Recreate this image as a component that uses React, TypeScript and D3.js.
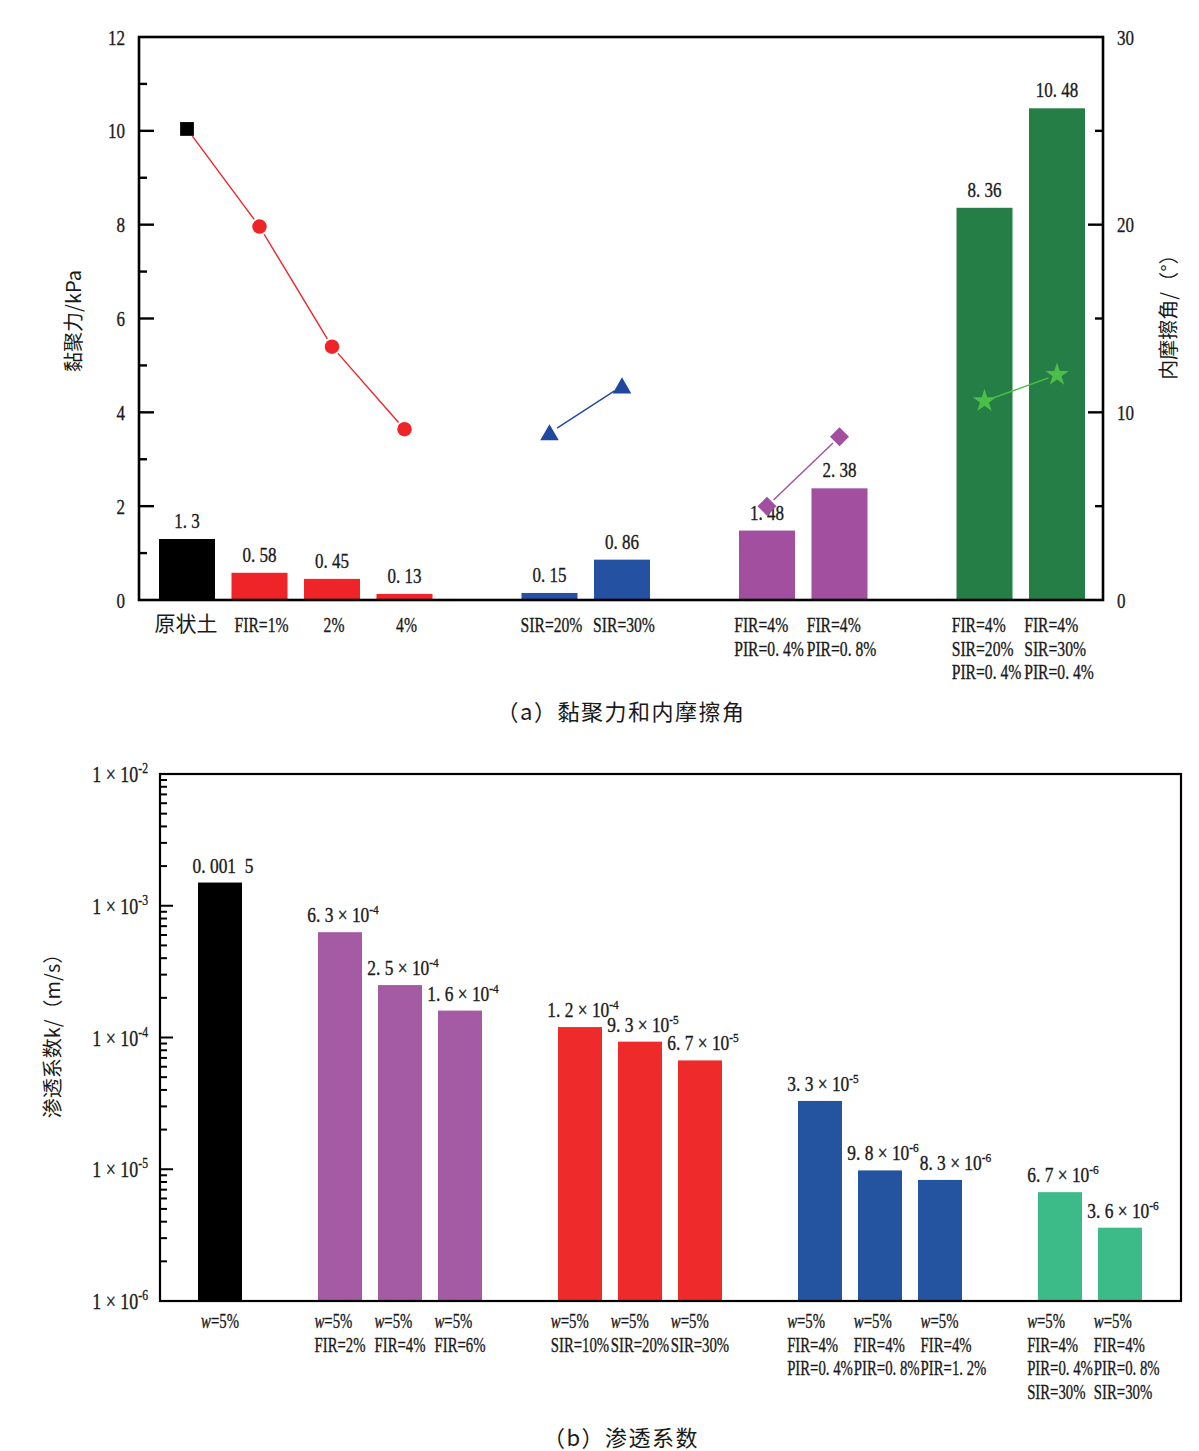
import React, { useEffect, useRef } from 'react';
import * as d3 from 'd3';

const W = 1199;
const H = 1451;
const SERIF = '"Liberation Serif","Times New Roman",serif';
const CJK = '"Noto Sans CJK SC","Noto Sans CJK JP",sans-serif';

// ---------- Chart (a): cohesion & internal friction angle ----------
const cohesionCats: string[][] = [
  ['原状土'], ['FIR=1%'], ['2%'], ['4%'], ['SIR=20%'], ['SIR=30%'],
  ['FIR=4%', 'PIR=0. 4%'], ['FIR=4%', 'PIR=0. 8%'],
  ['FIR=4%', 'SIR=20%', 'PIR=0. 4%'], ['FIR=4%', 'SIR=30%', 'PIR=0. 4%'],
];
const cohesionSlots = [0, 1, 2, 3, 5, 6, 8, 9, 11, 12];
const cohesionValues = [1.3, 0.58, 0.45, 0.13, 0.15, 0.86, 1.48, 2.38, 8.36, 10.48];
const cohesionLabels = ['1. 3', '0. 58', '0. 45', '0. 13', '0. 15', '0. 86', '1. 48', '2. 38', '8. 36', '10. 48'];
const cohesionColors = ['#000000', '#ee2428', '#ee2428', '#ee2428', '#2451a1', '#2451a1', '#a14f9e', '#a14f9e', '#257e46', '#257e46'];
const frictionValues = [25.1, 19.9, 13.5, 9.1, 8.9, 11.4, 5.0, 8.7, 10.6, 12.0];
const frictionMarkers = ['square', 'circle', 'circle', 'circle', 'triangle', 'triangle', 'diamond', 'diamond', 'star', 'star'];
const frictionMarkerColors = ['#000000', '#ee2428', '#ee2428', '#ee2428', '#2146a0', '#2146a0', '#a14f9e', '#a14f9e', '#4cbf4a', '#4cbf4a'];
const frictionGroups = [[0, 1, 2, 3], [4, 5], [6, 7], [8, 9]];
const frictionLineColors = ['#ee2428', '#2146a0', '#a14f9e', '#4cbf4a'];
const leftTicks = [0, 2, 4, 6, 8, 10, 12];
const rightTicks = [0, 10, 20, 30];

// ---------- Chart (b): permeability coefficient ----------
const permCats: string[][] = [
  ['w=5%'],
  ['w=5%', 'FIR=2%'], ['w=5%', 'FIR=4%'], ['w=5%', 'FIR=6%'],
  ['w=5%', 'SIR=10%'], ['w=5%', 'SIR=20%'], ['w=5%', 'SIR=30%'],
  ['w=5%', 'FIR=4%', 'PIR=0. 4%'], ['w=5%', 'FIR=4%', 'PIR=0. 8%'], ['w=5%', 'FIR=4%', 'PIR=1. 2%'],
  ['w=5%', 'FIR=4%', 'PIR=0. 4%', 'SIR=30%'], ['w=5%', 'FIR=4%', 'PIR=0. 8%', 'SIR=30%'],
];
const permSlots = [0, 2, 3, 4, 6, 7, 8, 10, 11, 12, 14, 15];
const permValues = [1.5e-3, 6.3e-4, 2.5e-4, 1.6e-4, 1.2e-4, 9.3e-5, 6.7e-5, 3.3e-5, 9.8e-6, 8.3e-6, 6.7e-6, 3.6e-6];
const permLabelBase = ['0. 001  5', '6. 3 × 10', '2. 5 × 10', '1. 6 × 10', '1. 2 × 10', '9. 3 × 10', '6. 7 × 10', '3. 3 × 10', '9. 8 × 10', '8. 3 × 10', '6. 7 × 10', '3. 6 × 10'];
const permLabelExp = ['', '-4', '-4', '-4', '-4', '-5', '-5', '-5', '-6', '-6', '-6', '-6'];
const permColors = ['#000000', '#a55aa4', '#a55aa4', '#a55aa4', '#ee2a2a', '#ee2a2a', '#ee2a2a', '#2453a0', '#2453a0', '#2453a0', '#3cbb88', '#3cbb88'];
const logTicks = [1e-6, 1e-5, 1e-4, 1e-3, 1e-2];
const logTickExp = ['-6', '-5', '-4', '-3', '-2'];

type TOpts = { size?: number; anchor?: string; sx?: number; family?: string; fill?: string; expSize?: number; expDy?: number };
const INK = '#1a1a1a';

function styleText(t: any, o: TOpts) {
  return t.attr('font-family', o.family ?? SERIF)
    .attr('font-size', o.size ?? 20)
    .attr('text-anchor', o.anchor ?? 'middle')
    .attr('fill', o.fill ?? INK)
    .attr('stroke', o.fill ?? INK)
    .attr('stroke-width', 0.35)
    .style('white-space', 'pre');
}

function calib(svg: any, sample: string, size: number, target: number, family = SERIF) {
  const t = svg.append('text').attr('font-family', family).attr('font-size', size).style('white-space', 'pre').text(sample);
  const w = (t.node() as SVGTextElement).getComputedTextLength();
  t.remove();
  return w > 0 ? target / w : 1;
}

function addText(g: any, x: number, y: number, str: string, o: TOpts = {}) {
  const sx = o.sx ?? 1;
  const t = styleText(g.append('text').attr('transform', `translate(${x},${y}) scale(${sx},1)`), o);
  if (str.startsWith('w=')) {
    t.append('tspan').attr('font-style', 'italic').text('w');
    t.append('tspan').text(str.slice(1));
  } else {
    t.text(str);
  }
  return t;
}

function addSupText(g: any, x: number, y: number, base: string, exp: string, o: TOpts = {}) {
  const sx = o.sx ?? 1;
  const size = o.size ?? 20;
  const t = styleText(g.append('text').attr('transform', `translate(${x},${y}) scale(${sx},1)`), o);
  t.append('tspan').text(base);
  if (exp) t.append('tspan').attr('dy', o.expDy ?? -size * 0.42).attr('font-size', o.expSize ?? size * 0.68).text(exp);
  return t;
}

function addBlocks(g: any, centers: number[], slots: number[], y0: number, cats: string[][], lineH: number, o: TOpts) {
  const sx = o.sx ?? 1;
  let prevRight = -Infinity;
  let prevSlot = -99;
  cats.forEach((lines, bi) => {
    const els = lines.map((s, i) => addText(g, 0, y0 + i * lineH, s, { ...o, anchor: 'start' }));
    let maxW = 0;
    els.forEach((e: any) => {
      const w = (e.node() as SVGTextElement).getComputedTextLength() * sx;
      if (w > maxW) maxW = w;
    });
    let left = centers[bi] - maxW / 2;
    if (slots[bi] === prevSlot + 1 && left < prevRight + 1) left = prevRight + 1;
    els.forEach((e: any, i: number) => e.attr('transform', `translate(${left},${y0 + i * lineH}) scale(${sx},1)`));
    prevRight = left + maxW;
    prevSlot = slots[bi];
  });
}

function symbolPath(kind: string) {
  switch (kind) {
    case 'square': return d3.symbol(d3.symbolSquare, 190)();
    case 'circle': return d3.symbol(d3.symbolCircle, 165)();
    case 'triangle': return d3.symbol(d3.symbolTriangle, 150)();
    case 'diamond': return d3.symbol(d3.symbolSquare, 180)();
    case 'star': return d3.symbol(d3.symbolStar, 170)();
    default: return d3.symbol(d3.symbolCircle, 150)();
  }
}

export default function App() {
  const ref = useRef<SVGSVGElement | null>(null);

  useEffect(() => {
    const svg = d3.select(ref.current);
    svg.selectAll('*').remove();
    svg.append('rect').attr('width', W).attr('height', H).attr('fill', '#fff');

    const sxXA = calib(svg, 'FIR=4%', 21, 54);
    const sxXB = calib(svg, 'FIR=4%', 21, 51);
    const sxValA = calib(svg, '0. 58', 21, 34);
    const sxValB = calib(svg, '6. 3 × 10', 20, 62);
    const sxTickA = calib(svg, '10', 22, 17);
    const sxTickB = calib(svg, '1 × 10', 23, 46);

    // ===== Chart (a) =====
    const a = svg.append('g');
    const L = 139, R = 1103, T = 37, B = 600;
    const xA = d3.scaleLinear().domain([0, 12]).range([187, 1057]);
    const yL = d3.scaleLinear().domain([0, 12]).range([B, T]);
    const yR = d3.scaleLinear().domain([0, 30]).range([B, T]);
    const bwA = 56;

    cohesionValues.forEach((v, i) => {
      const cx = xA(cohesionSlots[i]);
      a.append('rect').attr('x', cx - bwA / 2).attr('y', yL(v)).attr('width', bwA).attr('height', B - yL(v)).attr('fill', cohesionColors[i]);
      addText(a, cx, yL(v) - 11, cohesionLabels[i], { size: 21, sx: sxValA });
    });

    frictionGroups.forEach((grp, gi) => {
      for (let k = 0; k < grp.length - 1; k++) {
        const i1 = grp[k], i2 = grp[k + 1];
        const x1 = xA(cohesionSlots[i1]), y1 = yR(frictionValues[i1]);
        const x2 = xA(cohesionSlots[i2]), y2 = yR(frictionValues[i2]);
        const dx = x2 - x1, dy = y2 - y1, len = Math.hypot(dx, dy);
        const gap = 9;
        a.append('line')
          .attr('x1', x1 + dx / len * gap).attr('y1', y1 + dy / len * gap)
          .attr('x2', x2 - dx / len * gap).attr('y2', y2 - dy / len * gap)
          .attr('stroke', frictionLineColors[gi]).attr('stroke-width', 1.4);
      }
    });
    frictionValues.forEach((v, i) => {
      const cx = xA(cohesionSlots[i]);
      const cy = yR(v);
      const kind = frictionMarkers[i];
      a.append('path').attr('d', symbolPath(kind) as string)
        .attr('transform', `translate(${cx},${cy})${kind === 'diamond' ? ' rotate(45)' : ''}${kind === 'triangle' ? ' translate(0,2)' : ''}`)
        .attr('fill', frictionMarkerColors[i]);
    });

    a.append('rect').attr('x', L).attr('y', T).attr('width', R - L).attr('height', B - T)
      .attr('fill', 'none').attr('stroke', '#000').attr('stroke-width', 2.6);

    for (let v = 1; v < 12; v += 1) {
      const major = v % 2 === 0;
      a.append('line').attr('x1', L).attr('x2', L + (major ? 15 : 8)).attr('y1', yL(v)).attr('y2', yL(v)).attr('stroke', '#000').attr('stroke-width', 2.4);
    }
    leftTicks.forEach(v => addText(a, 125, yL(v) + 7.5, String(v), { size: 22, anchor: 'end', sx: sxTickA }));
    for (let v = 5; v < 30; v += 5) {
      const major = v % 10 === 0;
      a.append('line').attr('x1', R).attr('x2', R - (major ? 15 : 8)).attr('y1', yR(v)).attr('y2', yR(v)).attr('stroke', '#000').attr('stroke-width', 2.4);
    }
    rightTicks.forEach(v => addText(a, 1117, yR(v) + 7.5, String(v), { size: 22, anchor: 'start', sx: sxTickA }));

    a.append('text').attr('transform', `translate(81,321) rotate(-90)`).attr('font-family', CJK).attr('font-size', 20)
      .attr('text-anchor', 'middle').attr('fill', INK).text('黏聚力/kPa');
    a.append('text').attr('transform', `translate(1176,312) rotate(-90)`).attr('font-family', CJK).attr('font-size', 20)
      .attr('text-anchor', 'middle').attr('fill', INK).text('内摩擦角/（°）');

    const catCentersA = cohesionSlots.map(s => xA(s) + 2);
    a.append('text').attr('x', catCentersA[0] - 3).attr('y', 631).attr('font-family', CJK).attr('font-size', 21)
      .attr('text-anchor', 'middle').attr('fill', INK).text(cohesionCats[0][0]);
    addBlocks(a, catCentersA.slice(1), cohesionSlots.slice(1), 632, cohesionCats.slice(1), 23.5, { size: 21, sx: sxXA });

    a.append('text').attr('x', 621).attr('y', 720).attr('font-family', CJK).attr('font-size', 22)
      .attr('letter-spacing', 1.5)
      .attr('text-anchor', 'middle').attr('fill', INK).text('（a）黏聚力和内摩擦角');

    // ===== Chart (b) =====
    const b = svg.append('g');
    const L2 = 160, R2 = 1181, T2 = 774, B2 = 1301;
    const xB = d3.scaleLinear().domain([0, 15]).range([220, 1120]);
    const yB = d3.scaleLog().domain([1e-6, 1e-2]).range([B2, T2]);
    const bwB = 44;

    permValues.forEach((v, i) => {
      const cx = xB(permSlots[i]);
      b.append('rect').attr('x', cx - bwB / 2).attr('y', yB(v)).attr('width', bwB).attr('height', B2 - yB(v)).attr('fill', permColors[i]);
    });
    // value labels; nudge a label right only when it sits almost level with its left neighbour
    let prevBox: DOMRect | null = null;
    let prevY = -999;
    permValues.forEach((v, i) => {
      const cx = xB(permSlots[i]);
      const y = yB(v) - 10;
      let x = cx + 3;
      const t = addSupText(b, x, y, permLabelBase[i], permLabelExp[i], { size: 20, sx: sxValB, expSize: 13, expDy: -8 });
      let box = (t.node() as SVGTextElement).getBoundingClientRect();
      if (prevBox && Math.abs(y - prevY) < 12 && box.left < prevBox.right) {
        x += prevBox.right - box.left + 1;
        t.attr('transform', `translate(${x},${y}) scale(${sxValB},1)`);
        box = (t.node() as SVGTextElement).getBoundingClientRect();
      }
      prevBox = box;
      prevY = y;
    });

    b.append('rect').attr('x', L2).attr('y', T2).attr('width', R2 - L2).attr('height', B2 - T2)
      .attr('fill', 'none').attr('stroke', '#000').attr('stroke-width', 2.2);

    for (let e = -6; e < -2; e++) {
      for (let m = 1; m <= 9; m++) {
        const v = m * Math.pow(10, e);
        if (v <= 1e-6) continue;
        const y = yB(v);
        const major = m === 1;
        b.append('line').attr('x1', L2).attr('x2', L2 + (major ? 13 : 7)).attr('y1', y).attr('y2', y).attr('stroke', '#000').attr('stroke-width', 2);
      }
    }
    logTicks.forEach((v, i) => {
      addSupText(b, 148, yB(v) + 8, '1 × 10', logTickExp[i], { size: 23, anchor: 'end', sx: sxTickB, expSize: 15, expDy: -9 });
    });

    b.append('text').attr('transform', `translate(60,1031) rotate(-90)`).attr('font-family', CJK).attr('font-size', 20)
      .attr('text-anchor', 'middle').attr('fill', INK).text('渗透系数k/（m/s）');

    addBlocks(b, permSlots.map(s => xB(s)), permSlots, 1328, permCats, 23.5, { size: 21, sx: sxXB });

    b.append('text').attr('x', 621).attr('y', 1446).attr('font-family', CJK).attr('font-size', 22)
      .attr('letter-spacing', 1.5)
      .attr('text-anchor', 'middle').attr('fill', INK).text('（b）渗透系数');
  }, []);

  return (
    <svg ref={ref} width={W} height={H} viewBox={`0 0 ${W} ${H}`}
      style={{ position: 'absolute', left: 0, top: 0, display: 'block' }} />
  );
}
